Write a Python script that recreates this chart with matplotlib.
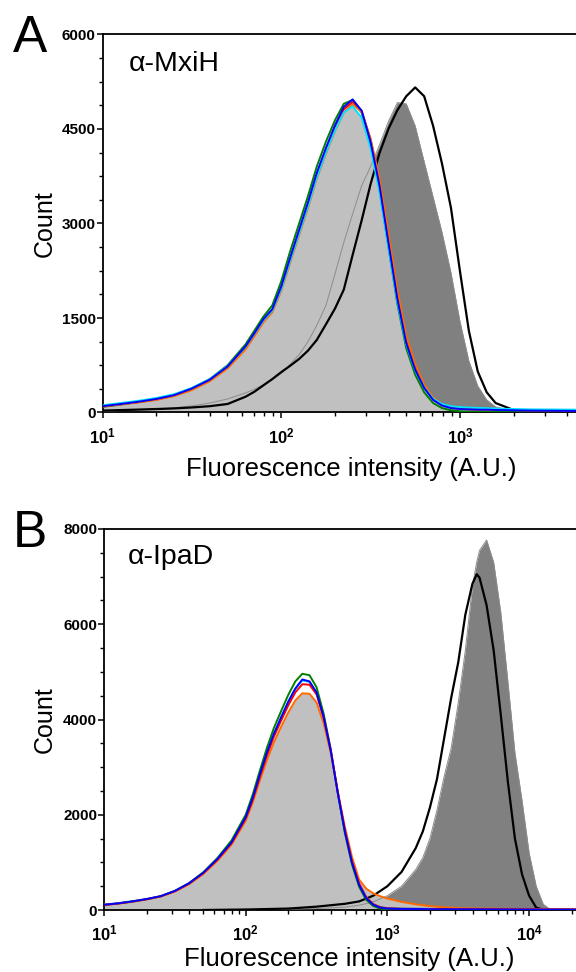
from __future__ import annotations

import matplotlib

matplotlib.use("Agg")

import matplotlib.pyplot as plt
from matplotlib.ticker import FixedLocator, NullFormatter


# ---- panel A (alpha-MxiH) ----
A_X = [10, 12.6, 15.8, 20, 25.1, 31.6, 39.8, 50.1, 63.1, 70.8, 79.4, 89.1, 100, 112, 126, 141, 158,
       178, 200, 224, 251, 282, 316, 355, 398, 447, 501, 562, 631, 708, 794, 891, 1000, 1122, 1259,
       1413, 1585, 1995, 2512, 4467]
A_BLUE = [100, 135, 170, 215, 275, 380, 520, 730, 1050, 1260, 1480, 1640, 2000, 2450, 2900, 3330, 3800,
          4200, 4560, 4850, 4970, 4790, 4300, 3600, 2700, 1800, 1100, 680, 390, 200, 110, 70, 55, 50, 45,
          45, 40, 35, 30, 25]
A_CYAN = [115, 150, 185, 230, 290, 390, 530, 735, 1040, 1250, 1460, 1620, 1960, 2400, 2850, 3270, 3730,
          4130, 4480, 4760, 4860, 4680, 4200, 3500, 2620, 1750, 1080, 670, 400, 220, 135, 100, 85, 78, 72,
          68, 62, 55, 50, 45]
A_GREEN = [90, 125, 165, 210, 275, 385, 530, 750, 1080, 1300, 1520, 1700, 2080, 2550, 3000, 3430, 3900,
           4300, 4640, 4900, 4960, 4760, 4250, 3540, 2630, 1720, 1020, 600, 320, 150, 70, 35, 20, 15, 15,
           12, 12, 10, 10, 10]
A_RED = [95, 130, 165, 205, 265, 365, 505, 710, 1020, 1230, 1450, 1610, 1960, 2400, 2850, 3280, 3750,
         4160, 4520, 4810, 4930, 4790, 4340, 3680, 2800, 1900, 1180, 740, 430, 230, 130, 80, 60, 52, 48,
         45, 42, 38, 34, 28]
A_ORANGE = [95, 130, 160, 200, 260, 355, 495, 700, 1000, 1210, 1430, 1590, 1930, 2370, 2820, 3240, 3710,
            4110, 4470, 4760, 4890, 4770, 4350, 3720, 2850, 1950, 1220, 770, 450, 240, 135, 85, 62, 54, 50,
            46, 43, 40, 35, 30]
A_DARK = [20, 30, 40, 55, 75, 105, 150, 215, 310, 370, 440, 520, 620, 760, 920, 1120, 1380,
          1700, 2200, 2700, 3150, 3600, 3900, 4250, 4620, 4920, 4900, 4550, 3980, 3420, 2860, 2220, 1450,
          820, 420, 200, 90, 20, 5, 0]
A_BLACK = [30, 38, 46, 55, 65, 80, 100, 135, 250, 330, 430, 530, 640, 740, 850, 980, 1150,
           1400, 1650, 1950, 2500, 3050, 3620, 4120, 4500, 4800, 5020, 5160, 5020, 4550, 3950, 3250, 2250,
           1300, 650, 320, 150, 40, 15, 5]

# ---- panel B (alpha-IpaD) ----
B_X = [10, 12.6, 15.8, 20, 25.1, 31.6, 39.8, 50.1, 63.1, 79.4, 100, 112, 126, 141, 158, 178, 200, 224,
       251, 282, 316, 355, 398, 447, 501, 562, 631, 708, 794, 891, 1000, 1259, 1585, 1995, 2512, 3162,
       3981, 5012, 6310, 7943, 10000, 12589, 21380]
B_BLUE = [110, 140, 180, 230, 290, 400, 560, 780, 1070, 1420, 1950, 2350, 2850, 3300, 3700, 4050, 4380,
          4650, 4840, 4800, 4570, 4050, 3350, 2450, 1650, 1000, 530, 250, 110, 50, 30, 22, 20, 18, 16,
          15, 14, 13, 12, 11, 10, 9, 8]
B_CYAN = [115, 145, 185, 232, 292, 400, 558, 776, 1065, 1412, 1940, 2340, 2840, 3290, 3690, 4040, 4370,
          4640, 4820, 4790, 4560, 4040, 3340, 2440, 1650, 1005, 540, 260, 120, 60, 40, 32, 28, 25, 24,
          22, 21, 20, 19, 18, 17, 16, 15]
B_GREEN = [105, 135, 175, 225, 285, 400, 565, 790, 1090, 1460, 2000, 2420, 2930, 3400, 3820, 4180, 4520,
           4800, 4960, 4930, 4680, 4120, 3380, 2450, 1620, 960, 490, 215, 85, 30, 12, 8, 6, 5, 5,
           5, 5, 4, 4, 4, 3, 3, 3]
B_RED = [108, 138, 178, 228, 288, 395, 552, 770, 1055, 1400, 1920, 2310, 2800, 3240, 3640, 3980, 4300,
         4570, 4740, 4730, 4530, 4040, 3360, 2470, 1680, 1020, 560, 270, 125, 60, 38, 28, 25, 22, 20,
         18, 17, 16, 15, 14, 13, 12, 10]
B_ORANGE = [105, 135, 175, 222, 282, 385, 540, 750, 1030, 1370, 1870, 2250, 2720, 3140, 3520, 3850, 4150,
            4400, 4550, 4540, 4360, 3920, 3300, 2480, 1750, 1120, 640, 450, 350, 290, 240, 170, 120, 80, 55,
            40, 32, 28, 25, 22, 20, 18, 15]

B_X2 = [50.1, 100, 200, 316, 501, 631, 794, 1000, 1259, 1585, 1778, 1995, 2239, 2512, 2818, 3162, 3548,
        3981, 4266, 4467, 5012, 5623, 6310, 7079, 7943, 8913, 10000, 11220, 12589, 14125, 21380]
B_DARK = [0, 5, 15, 30, 60, 100, 170, 300, 500, 850, 1100, 1500, 2100, 2800, 3400, 4350, 5450,
          6800, 7300, 7550, 7770, 7300, 6250, 4800, 3300, 2300, 1200, 500, 120, 10, 0]
B_BLACK = [0, 10, 30, 70, 130, 180, 300, 500, 800, 1300, 1650, 2150, 2750, 3600, 4450, 5200, 6200,
           6850, 7050, 6980, 6400, 5450, 4100, 2700, 1500, 750, 300, 50, 5, 0, 0]

LIGHT_GRAY = "#c0c0c0"
DARK_GRAY = "#808080"
COLORS = {
    "green": "#008000",
    "red": "#ff0000",
    "orange": "#ff6a00",
    "blue": "#0000ff",
    "cyan": "#00e5ff",
}

plt.rcParams["font.family"] = ["Liberation Sans", "DejaVu Sans"]
plt.rcParams["mathtext.fontset"] = "custom"
plt.rcParams["mathtext.rm"] = "Liberation Sans"
plt.rcParams["mathtext.bf"] = "Liberation Sans:bold"


def style_axes(ax, xmax, ymax, ystep, yminor, decades):
    ax.set_xscale("log")
    ax.set_xlim(10, xmax)
    ax.set_ylim(0, ymax)
    ax.spines["right"].set_visible(False)
    for side in ("left", "bottom", "top"):
        ax.spines[side].set_linewidth(1.3)

    majors = [10 ** d for d in decades]
    ax.xaxis.set_major_locator(FixedLocator(majors))
    ax.set_xticklabels([rf"$\mathbf{{10^{{{d}}}}}$" for d in decades], fontsize=12)
    minors = [m * 10 ** d for d in range(1, 5) for m in range(2, 10) if m * 10 ** d < xmax]
    ax.xaxis.set_minor_locator(FixedLocator(minors))
    ax.xaxis.set_minor_formatter(NullFormatter())

    yt = list(range(0, ymax + 1, ystep))
    ax.set_yticks(yt)
    ax.set_yticklabels([str(v) for v in yt], fontsize=11, fontweight="bold")
    ax.yaxis.set_minor_locator(FixedLocator(list(range(0, ymax + 1, yminor))))

    ax.tick_params(axis="x", which="major", direction="out", length=4, width=1.1, pad=6)
    ax.tick_params(axis="x", which="minor", direction="out", length=3, width=1.0)
    ax.tick_params(axis="y", which="major", direction="out", length=4, width=1.1, pad=1)
    ax.tick_params(axis="y", which="minor", direction="out", length=3, width=1.0)
    ax.tick_params(top=False, right=False, which="both")


def main() -> None:
    fig = plt.figure(figsize=(5.76, 9.72), dpi=100)

    # Panel A
    ax = fig.add_axes([102.5 / 576, 1 - 412.5 / 972, 473.5 / 576, 378 / 972])
    ax.fill_between(A_X, 0, A_DARK, color=DARK_GRAY, linewidth=0, zorder=1)
    ax.fill_between(A_X, 0, A_CYAN, color=LIGHT_GRAY, linewidth=0, zorder=2)
    ax.plot(A_X, A_DARK, color="#8c8c8c", linewidth=0.7, zorder=3)
    ax.plot(A_X, A_BLACK, color="black", linewidth=1.6, zorder=4)
    for name, ys in [("green", A_GREEN), ("red", A_RED), ("orange", A_ORANGE),
                     ("cyan", A_CYAN), ("blue", A_BLUE)]:
        ax.plot(A_X, ys, color=COLORS[name], linewidth=1.4, zorder=5)
    style_axes(ax, 4464, 6000, 1500, 375, [1, 2, 3])
    ax.text((129 - 102.5) / 473.5, 1 - (71 - 34.5) / 378, "α-MxiH", transform=ax.transAxes,
            fontsize=20.5, va="baseline", ha="left")

    # Panel B
    bx = fig.add_axes([104 / 576, 1 - 910 / 972, 472 / 576, 381 / 972])
    bx.fill_between(B_X2, 0, B_DARK, color=DARK_GRAY, linewidth=0, zorder=1)
    bx.fill_between(B_X, 0, B_ORANGE, color=LIGHT_GRAY, linewidth=0, zorder=2)
    bx.plot(B_X2, B_DARK, color="#8c8c8c", linewidth=0.7, zorder=3)
    bx.plot(B_X2, B_BLACK, color="black", linewidth=1.6, zorder=4)
    for name, ys in [("cyan", B_CYAN), ("green", B_GREEN), ("orange", B_ORANGE),
                     ("red", B_RED), ("blue", B_BLUE)]:
        bx.plot(B_X, ys, color=COLORS[name], linewidth=1.4, zorder=5)
    style_axes(bx, 21430, 8000, 2000, 500, [1, 2, 3, 4])
    bx.text((128 - 104) / 472, 1 - (564 - 529) / 381, "α-IpaD", transform=bx.transAxes,
            fontsize=20.5, va="baseline", ha="left")

    # panel letters and axis titles
    fig.text(13 / 576, 1 - 52 / 972, "A", fontsize=37, va="baseline", ha="left")
    fig.text(13 / 576, 1 - 547 / 972, "B", fontsize=37, va="baseline", ha="left")
    fig.text(45 / 576, 1 - 224 / 972, "Count", fontsize=18, rotation=90, ha="center", va="center")
    fig.text(45 / 576, 1 - 720 / 972, "Count", fontsize=18, rotation=90, ha="center", va="center")
    fig.text(351 / 576, 1 - 476 / 972, "Fluorescence intensity (A.U.)", fontsize=18.5,
             ha="center", va="baseline")
    fig.text(349 / 576, 1 - 966 / 972, "Fluorescence intensity (A.U.)", fontsize=18.5,
             ha="center", va="baseline")

    fig.savefig("out.png", dpi=100, facecolor="white")
    plt.close(fig)


if __name__ == "__main__":
    main()
